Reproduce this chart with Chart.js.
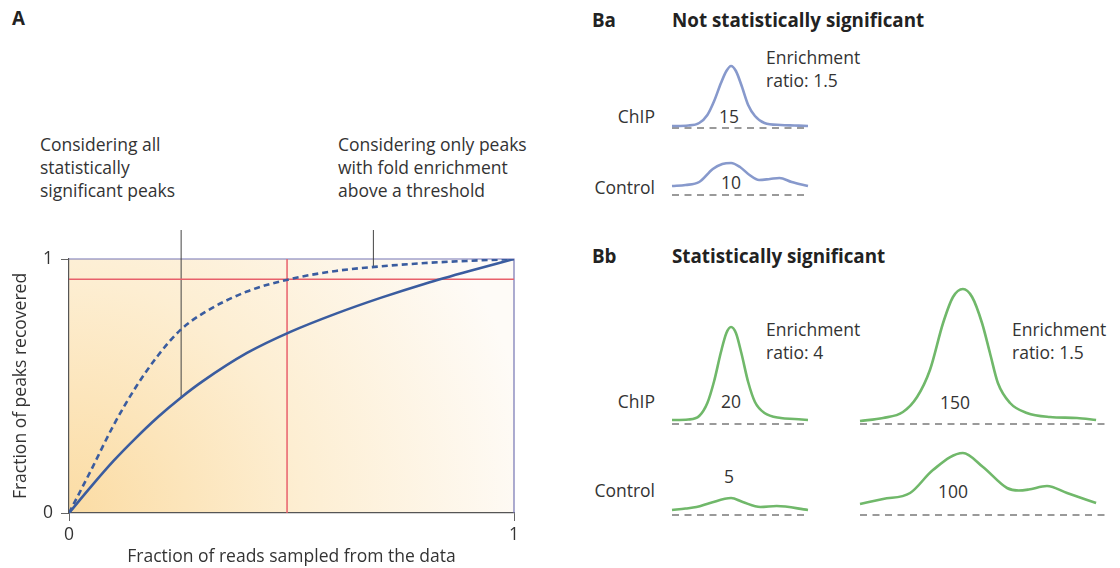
<!DOCTYPE html>
<html>
<head>
<meta charset="utf-8">
<script src="https://cdn.jsdelivr.net/npm/chart.js@4.4.0/dist/chart.umd.min.js"></script>
<style>
  html, body { margin: 0; padding: 0; width: 1120px; height: 568px; overflow: hidden; background: #fff; }
  body { position: relative; font-family: "Open Sans", sans-serif; color: #333; }
  .t { position: absolute; font-size: 17.5px; line-height: 23px; white-space: nowrap; }
  .b { font-weight: bold; color: #222; font-size: 18.8px; }
  .c { transform: translateX(-50%); }
  canvas { position: absolute; }
</style>
</head>
<body>
<div class="t b" style="left:12px;top:7px;">A</div>
<div class="t b" style="left:592px;top:9px;">Ba</div>
<div class="t b" style="left:672px;top:9px;">Not statistically significant</div>
<div class="t b" style="left:592px;top:245px;">Bb</div>
<div class="t b" style="left:672px;top:245px;">Statistically significant</div>

<div class="t" style="left:40px;top:133px;">Considering all<br>statistically<br>significant peaks</div>
<div class="t" style="left:338px;top:133px;">Considering only peaks<br>with fold enrichment<br>above a threshold</div>

<div class="t" style="left:766px;top:46px;">Enrichment<br>ratio: 1.5</div>
<div class="t" style="right:465px;top:105px;">ChIP</div>
<div class="t c" style="left:729px;top:105px;">15</div>
<div class="t" style="right:465px;top:176px;">Control</div>
<div class="t c" style="left:731px;top:171px;">10</div>

<div class="t" style="left:766px;top:318px;">Enrichment<br>ratio: 4</div>
<div class="t" style="left:1012px;top:318px;">Enrichment<br>ratio: 1.5</div>
<div class="t" style="right:465px;top:390px;">ChIP</div>
<div class="t c" style="left:731px;top:390px;">20</div>
<div class="t c" style="left:955px;top:391px;">150</div>
<div class="t" style="right:465px;top:479px;">Control</div>
<div class="t c" style="left:729px;top:465px;">5</div>
<div class="t c" style="left:953px;top:480px;">100</div>

<canvas id="panelA" width="540" height="338" style="left:0px;top:230px;"></canvas>
<canvas id="baChip" width="142" height="76" style="left:669px;top:55px;"></canvas>
<canvas id="baControl" width="142" height="46" style="left:669px;top:152px;"></canvas>
<canvas id="bbChipLow" width="142" height="146" style="left:669px;top:281px;"></canvas>
<canvas id="bbChipHigh" width="254" height="146" style="left:857px;top:281px;"></canvas>
<canvas id="bbControlLow" width="142" height="76" style="left:669px;top:442px;"></canvas>
<canvas id="bbControlHigh" width="254" height="76" style="left:857px;top:442px;"></canvas>

<script>
// panel A: fraction of peaks recovered vs fraction of reads sampled
const readFraction = [0, 0.05, 0.1, 0.15, 0.2, 0.25, 0.3, 0.4, 0.5, 0.6, 0.7, 0.8, 0.9, 1];
const allPeaks = [0, 0.105, 0.205, 0.295, 0.378, 0.452, 0.518, 0.63, 0.715, 0.785, 0.847, 0.903, 0.953, 1];
const thresholdPeaks = [0, 0.17, 0.345, 0.495, 0.62, 0.72, 0.785, 0.872, 0.922, 0.953, 0.971, 0.984, 0.993, 1];
const sampledCut = 0.49;
const recoveredCut = 0.92;
const axisTicks = [0, 1];

// where the callout lines meet the curves
const leaderAll = { x: 0.252, y: 0.452, top: 1.25 };
const leaderThreshold = { x: 0.684, y: 0.968, top: 1.205 };

// panel B: read profiles (x = fraction across the window, y = signal)
const baChipX = [0, 0.12, 0.2, 0.26, 0.31, 0.36, 0.4, 0.434, 0.47, 0.51, 0.56, 0.61, 0.68, 0.8, 0.9, 1];
const baChipY = [2, 2.5, 5, 13, 27, 45, 57, 62, 57, 43, 23, 12, 5, 3, 2.5, 2];
const baControlX = [0, 0.1, 0.2, 0.3, 0.37, 0.434, 0.5, 0.57, 0.64, 0.72, 0.79, 0.88, 1];
const baControlY = [9, 10, 13, 26, 31, 32, 28, 20, 15, 16, 17, 13, 9];

const bbChipLowX = [0, 0.12, 0.2, 0.26, 0.31, 0.36, 0.4, 0.434, 0.47, 0.51, 0.56, 0.61, 0.68, 0.8, 0.9, 1];
const bbChipLowY = [4, 4.5, 8, 21, 43, 72, 91, 97, 91, 71, 42, 22, 11, 6, 5, 4];
const bbControlLowX = [0, 0.1, 0.18, 0.28, 0.434, 0.52, 0.65, 0.77, 1];
const bbControlLowY = [5, 6.5, 8, 12, 17, 13, 8, 9, 5];

const bbChipHighX = [0, 0.093, 0.173, 0.23, 0.282, 0.335, 0.375, 0.415, 0.452, 0.492, 0.524, 0.556, 0.605, 0.673, 0.766, 0.875, 0.952];
const bbChipHighY = [3, 6, 12, 27, 54, 101, 127, 135, 127, 101, 71, 41, 21, 11, 7, 6, 4];
const bbControlHighX = [0, 0.093, 0.202, 0.294, 0.415, 0.496, 0.593, 0.64, 0.68, 0.754, 0.835, 0.952];
const bbControlHighY = [11, 16, 22, 45, 62, 48, 27, 24.5, 25.5, 29, 22, 12];

const BLUE = "#3a5c9f";
const RED = "#e8606b";
const LAVENDER = "#8799cc";
const GREEN = "#70b86a";

Chart.defaults.font.family = "'Open Sans', sans-serif";
Chart.defaults.color = "#333";

const toPoints = (xs, ys) => xs.map((x, i) => ({ x: x, y: ys[i] }));

const plotBackground = {
  id: "plotBackground",
  beforeDraw(chart) {
    const { ctx, chartArea: a } = chart;
    const g = ctx.createRadialGradient(a.left, a.bottom, 0, a.left, a.bottom, a.width * 1.05);
    g.addColorStop(0, "#fbdca4");
    g.addColorStop(0.5, "#fdeed2");
    g.addColorStop(1, "#fefbf7");
    ctx.save();
    ctx.fillStyle = g;
    ctx.fillRect(a.left, a.top, a.width, a.height);
    ctx.restore();
  },
  beforeDatasetsDraw(chart) {
    const { ctx, chartArea: a } = chart;
    ctx.save();
    ctx.strokeStyle = "#7575b3";
    ctx.lineWidth = 1.2;
    ctx.beginPath();
    ctx.moveTo(a.left, a.top);
    ctx.lineTo(a.right, a.top);
    ctx.lineTo(a.right, a.bottom);
    ctx.stroke();
    ctx.restore();
  },
};

const lineStyle = { pointRadius: 0, fill: false };

new Chart(document.getElementById("panelA").getContext("2d"), {
  type: "line",
  data: {
    datasets: [
      {
        data: toPoints(readFraction, allPeaks),
        borderColor: BLUE,
        borderWidth: 2.6,
        cubicInterpolationMode: "monotone",
        ...lineStyle,
      },
      {
        data: toPoints(readFraction, thresholdPeaks),
        borderColor: BLUE,
        borderWidth: 2.6,
        borderDash: [6, 4],
        cubicInterpolationMode: "monotone",
        ...lineStyle,
      },
      {
        data: [{ x: sampledCut, y: 0 }, { x: sampledCut, y: 1 }],
        borderColor: RED,
        borderWidth: 1.5,
        ...lineStyle,
      },
      {
        data: [{ x: 0, y: recoveredCut }, { x: 1, y: recoveredCut }],
        borderColor: RED,
        borderWidth: 1.5,
        ...lineStyle,
      },
      {
        data: [{ x: leaderAll.x, y: leaderAll.y }, { x: leaderAll.x, y: leaderAll.top }],
        borderColor: "#444",
        borderWidth: 1,
        clip: false,
        ...lineStyle,
      },
      {
        data: [{ x: leaderThreshold.x, y: leaderThreshold.y }, { x: leaderThreshold.x, y: leaderThreshold.top }],
        borderColor: "#444",
        borderWidth: 1,
        clip: false,
        ...lineStyle,
      },
    ],
  },
  options: {
    animation: false,
    responsive: false,
    layout: { padding: { left: 0, right: 26, top: 29, bottom: 0 } },
    plugins: { legend: { display: false }, tooltip: { enabled: false } },
    scales: {
      x: {
        type: "linear",
        min: 0,
        max: 1,
        afterFit: (s) => { s.height = 55; },
        afterBuildTicks: (s) => { s.ticks = axisTicks.map((v) => ({ value: v })); },
        ticks: { padding: 4, color: "#333", font: { size: 17.5 } },
        grid: { display: true, drawOnChartArea: false, drawTicks: true, tickLength: 8, color: "#666" },
        border: { display: true, color: "#555", width: 1.2 },
        title: {
          display: true,
          text: "Fraction of reads sampled from the data",
          color: "#333",
          font: { size: 17.5 },
          padding: { top: 0, bottom: 0 },
        },
      },
      y: {
        min: 0,
        max: 1,
        afterFit: (s) => { s.width = 69; },
        afterBuildTicks: (s) => { s.ticks = axisTicks.map((v) => ({ value: v })); },
        ticks: { padding: 8, color: "#333", font: { size: 17.5 } },
        grid: { display: true, drawOnChartArea: false, drawTicks: true, tickLength: 8, color: "#666" },
        border: { display: true, color: "#555", width: 1.2 },
        title: {
          display: true,
          text: "Fraction of peaks recovered",
          color: "#333",
          font: { size: 17.5 },
          padding: { top: 11, bottom: 0 },
        },
      },
    },
  },
  plugins: [plotBackground],
});

// one small chart per read profile, 1 unit of signal = 1 px
function peakChart(id, xs, ys, color, yMax) {
  new Chart(document.getElementById(id).getContext("2d"), {
    type: "line",
    data: {
      datasets: [
        {
          data: toPoints(xs, ys),
          borderColor: color,
          borderWidth: 2.6,
          cubicInterpolationMode: "monotone",
          clip: false,
          ...lineStyle,
        },
        {
          data: [{ x: 0, y: 0 }, { x: 1, y: 0 }],
          borderColor: "#7a7a7a",
          borderWidth: 1.5,
          borderDash: [7, 5.5],
          clip: false,
          ...lineStyle,
        },
      ],
    },
    options: {
      animation: false,
      responsive: false,
      layout: { padding: 3 },
      plugins: { legend: { display: false }, tooltip: { enabled: false } },
      scales: {
        x: { type: "linear", display: false, min: 0, max: 1 },
        y: { display: false, min: 0, max: yMax },
      },
    },
  });
}

peakChart("baChip", baChipX, baChipY, LAVENDER, 70);
peakChart("baControl", baControlX, baControlY, LAVENDER, 40);
peakChart("bbChipLow", bbChipLowX, bbChipLowY, GREEN, 140);
peakChart("bbChipHigh", bbChipHighX, bbChipHighY, GREEN, 140);
peakChart("bbControlLow", bbControlLowX, bbControlLowY, GREEN, 70);
peakChart("bbControlHigh", bbControlHighX, bbControlHighY, GREEN, 70);
</script>
</body>
</html>
